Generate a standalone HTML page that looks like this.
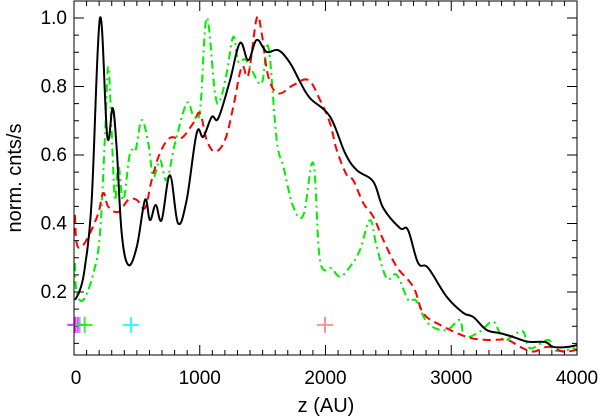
<!DOCTYPE html>
<html><head><meta charset="utf-8"><style>
body{margin:0;background:#fff;}
svg{display:block;font-family:"Liberation Sans",Arial,sans-serif;}
</style></head><body>
<svg id="chart" width="602" height="417" viewBox="0 0 602 417" xmlns="http://www.w3.org/2000/svg"></svg>
<script>
const xTicks=[0,1000,2000,3000,4000];
const yTicks=[0.2,0.4,0.6,0.8,1.0];
const yTickLabels=["0.2","0.4","0.6","0.8","1.0"];
const blackZ=[8,48,87,141,207,265,308,340,379,432,499,565,604,650,697,763,827,896,976,1028,1095,1148,1241,1320,1386,1453,1532,1625,1718,1797,1877,2036,2155,2248,2380,2460,2592,2656,2736,2817,2964,3096,3175,3282,3388,3491,3610,3746,3809,3912,4000];
const blackV=[.177,.206,.273,.469,1.0,.653,.737,.615,.372,.279,.331,.469,.41,.454,.41,.541,.401,.469,.664,.653,.711,.708,.819,.927,.877,.936,.901,.906,.869,.814,.766,.712,.606,.556,.522,.445,.387,.381,.285,.270,.186,.139,.127,.089,.080,.069,.055,.054,.040,.039,.045];
const redZ=[8,21,61,127,193,233,273,352,432,499,565,618,684,763,856,949,1002,1055,1121,1201,1267,1334,1386,1453,1493,1545,1625,1744,1863,1956,2036,2089,2169,2221,2301,2380,2460,2566,2698,2778,2911,3123,3282,3441,3547,3652,3772,3891,3998];
const redV=[.425,.343,.332,.372,.43,.489,.449,.434,.469,.469,.445,.527,.606,.65,.65,.693,.722,.644,.61,.644,.741,.858,.834,.999,.955,.829,.78,.804,.819,.761,.693,.615,.541,.526,.459,.42,.352,.274,.215,.138,.104,.069,.06,.06,.04,.026,.04,.026,.031];
const greenZ=[8,21,74,154,207,247,273,300,326,352,392,445,490,538,591,631,684,737,803,896,949,1002,1055,1121,1161,1214,1267,1307,1360,1413,1493,1545,1612,1665,1744,1824,1903,1956,2049,2115,2195,2274,2354,2407,2487,2566,2658,2720,2805,2911,2990,3070,3109,3230,3335,3414,3500,3573,3626,3772,3812,3900,3971,4000];
const greenV=[.284,.201,.177,.255,.372,.664,.858,.664,.469,.571,.469,.605,.615,.702,.634,.537,.585,.527,.634,.751,.717,.73,1.0,.78,.76,.839,.945,.872,.88,.848,.809,.916,.644,.566,.449,.425,.576,.293,.269,.245,.274,.323,.41,.332,.24,.25,.177,.175,.113,.089,.095,.118,.069,.085,.113,.06,.075,.084,.036,.06,.031,.029,.036,.029];
const markerZ=[10,30,45,85,453,1996];
const markerV=[0.104,0.104,0.104,0.104,0.104,0.104];
const markerColors=["#ff00ff","#c040ff","#b090ff","#00ff00","#00ffff","#ff8080"];

const L=74,R=577,T=1,B=355;
const sx=z=>L+z*0.12575;
const sy=v=>360.5-v*342.5;
const svg=document.getElementById('chart');
const NS="http://www.w3.org/2000/svg";
function mk(tag,attrs,parent){const e=document.createElementNS(NS,tag);for(const k in attrs)e.setAttribute(k,attrs[k]);(parent||svg).appendChild(e);return e;}

const tg=mk('g',{stroke:'#000','stroke-width':1});


for(let z=0;z<=4000;z+=100){const x=sx(z);const len=(z%1000===0)?10:5;
 mk('line',{x1:x,x2:x,y1:B,y2:B-len},tg);mk('line',{x1:x,x2:x,y1:T,y2:T+len},tg);}
for(let i=1;i<=20;i++){const v=i*0.05;const y=sy(v);if(y<T)continue;const len=(i%4===0)?10:5;
 mk('line',{x1:L,x2:L+len,y1:y,y2:y},tg);mk('line',{x1:R,x2:R-len,y1:y,y2:y},tg);}

function smoothPath(pts){
 let d='M'+pts[0][0].toFixed(1)+','+pts[0][1].toFixed(1);
 for(let i=0;i<pts.length-1;i++){
  const p0=pts[Math.max(0,i-1)],p1=pts[i],p2=pts[i+1],p3=pts[Math.min(pts.length-1,i+2)];
  const t=0.18;
  const c1x=p1[0]+(p2[0]-p0[0])*t,c1y=p1[1]+(p2[1]-p0[1])*t;
  const c2x=p2[0]-(p3[0]-p1[0])*t,c2y=p2[1]-(p3[1]-p1[1])*t;
  d+='C'+c1x.toFixed(1)+','+c1y.toFixed(1)+' '+c2x.toFixed(1)+','+c2y.toFixed(1)+' '+p2[0].toFixed(1)+','+p2[1].toFixed(1);
 }
 return d;
}
function series(zs,vs,color,dash,name){
 const pts=zs.map((z,i)=>[sx(z),sy(vs[i])]);
 const p=mk('path',{d:smoothPath(pts),fill:'none',stroke:color,'stroke-width':2,'stroke-dasharray':dash,'stroke-linejoin':'round'});
 
 
}
series(greenZ,greenV,'#00ee00','8,4,2,4','green-dashdot-series');
series(redZ,redV,'#ff0000','8,5','red-dashed-series');
series(blackZ,blackV,'#000','none','black-solid-series');

markerZ.forEach((z,i)=>{const x=sx(z),y=sy(markerV[i]);
 const g=mk('g',{stroke:markerColors[i],'stroke-width':2,opacity:0.85});
 
 
 mk('line',{x1:x-8,x2:x+8,y1:y,y2:y},g);mk('line',{x1:x,x2:x,y1:y-8,y2:y+8},g);});

const fr=mk('rect',{x:L,y:T,width:R-L,height:B-T,fill:'none',stroke:'#000','stroke-width':1});



xTicks.forEach((z,i)=>{const t=mk('text',{x:sx(z)+(i===0?2:0),y:384,'text-anchor':'middle','font-size':19});t.textContent=String(z);
 
 });
yTicks.forEach((v,i)=>{const t=mk('text',{x:67,y:sy(v)+6,'text-anchor':'end','font-size':19});t.textContent=yTickLabels[i];
 
 });
const xt=mk('text',{x:326,y:412,'text-anchor':'middle','font-size':20});xt.textContent='z (AU)';


const yt=mk('text',{x:0,y:0,'text-anchor':'middle','font-size':20,transform:'translate(21,178) rotate(-90)'});yt.textContent='norm. cnts/s';


</script>
</body></html>
